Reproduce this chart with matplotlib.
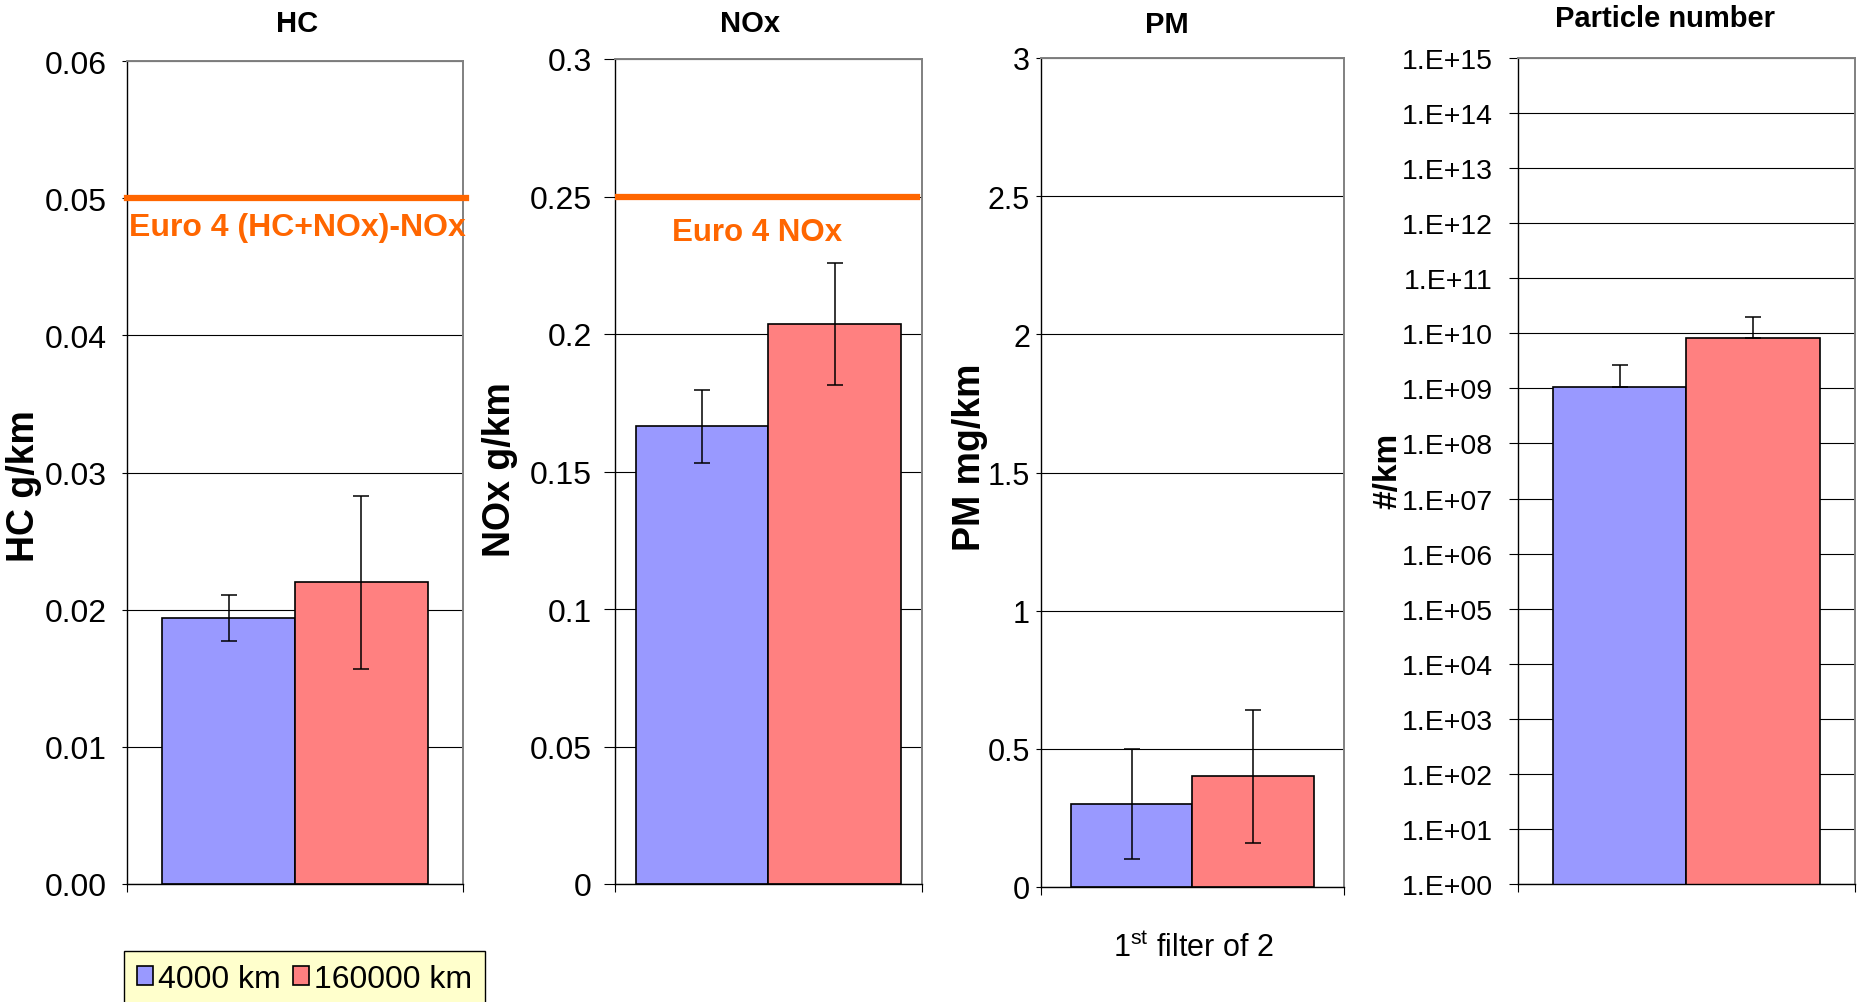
import numpy as np
import matplotlib
matplotlib.use("Agg")
import matplotlib.pyplot as plt
import matplotlib.ticker as tkr
from matplotlib.patches import Patch

plt.rcParams['font.family'] = ['Liberation Sans', 'DejaVu Sans']
plt.rcParams['mathtext.fontset'] = 'custom'
plt.rcParams['mathtext.rm'] = 'Liberation Sans'

# mileage groups and their colours
series = ["4000 km", "160000 km"]
colors = ["#9999FF", "#FF8080"]

# HC in g/km with the Euro 4 (HC+NOx)-NOx limit
hc_vals = [0.0194, 0.0220]
hc_err = [0.0017, 0.0063]
hc_limit = 0.05

# NOx in g/km with the Euro 4 NOx limit
nox_vals = [0.1664, 0.2036]
nox_err = [0.0133, 0.0223]
nox_limit = 0.25

# PM in mg/km
pm_vals = [0.30, 0.40]
pm_err = [0.20, 0.24]

# particle number per km, upper error only
pn_vals = [1.05e9, 8.2e9]
pn_err_up = [1.65e9, 1.18e10]

W, H = 1858, 1003
fig = plt.figure(figsize=(W / 100, H / 100), dpi=100)


def px_axes(l, t, r, b):
    return fig.add_axes([l / W, 1 - b / H, (r - l) / W, (b - t) / H])


def panel(box, vals, yerr, width, tick_len, tick_pad, tick_size, log=False):
    ax = px_axes(*box)
    x = np.array([-width / 2, width / 2])
    ax.bar(x, vals, width=width, color=colors, edgecolor='black',
           linewidth=1.2, zorder=2, log=log)
    ax.errorbar(x, vals, yerr=yerr, fmt='none', ecolor='black',
                elinewidth=1.1, capsize=6, capthick=1.1, zorder=3)
    ax.set_xlim(-0.5, 0.5)
    ax.set_xticks([-0.5, 0.5])
    ax.set_xticklabels([])
    ax.tick_params(axis='x', length=6, width=0.8, direction='out')
    ax.tick_params(axis='y', length=tick_len * 0.72, pad=tick_pad * 0.72,
                   labelsize=tick_size, width=0.8)
    ax.yaxis.grid(True, color='black', lw=0.8)
    ax.set_axisbelow(True)
    for s in ['left', 'bottom']:
        ax.spines[s].set_color('black')
        ax.spines[s].set_linewidth(1.0)
    for s in ['top', 'right']:
        ax.spines[s].set_color('#808080')
        ax.spines[s].set_linewidth(1.4)
    return ax


gfmt = tkr.FuncFormatter(lambda v, p: '%g' % round(v, 4))

# HC
ax1 = panel((127, 62, 463, 885), hc_vals, hc_err, 0.395, 5, 15, 23)
ax1.set_ylim(0, 0.06)
ax1.set_yticks(np.arange(0, 0.061, 0.01))
ax1.yaxis.set_major_formatter(tkr.FormatStrFormatter('%.2f'))
ax1.axhline(hc_limit, xmin=0, xmax=1.01, color='#FF6600', lw=4.5, zorder=4, clip_on=False)
ax1.text(-0.494, 0.0479, "Euro 4 (HC+NOx)-NOx", color='#FF6600', fontsize=23,
         fontweight='bold', ha='left', va='center', zorder=5)

# NOx
ax2 = panel((615, 60, 922, 885), nox_vals, nox_err, 0.43, 11, 12, 23)
ax2.set_ylim(0, 0.3)
ax2.set_yticks(np.arange(0, 0.301, 0.05))
ax2.yaxis.set_major_formatter(gfmt)
ax2.axhline(nox_limit, xmin=0, xmax=0.985, color='#FF6600', lw=4.5, zorder=4)
ax2.text(-0.0375, 0.2371, "Euro 4 NOx", color='#FF6600', fontsize=22.5,
         fontweight='bold', ha='center', va='center', zorder=5)

# PM
ax3 = panel((1041, 59, 1344, 888), pm_vals, pm_err, 0.40, 5, 6, 22)
ax3.set_ylim(0, 3)
ax3.set_yticks(np.arange(0, 3.01, 0.5))
ax3.yaxis.set_major_formatter(gfmt)

# Particle number (log scale)
pn_yerr = [[0, 0], pn_err_up]
ax4 = panel((1518, 59, 1855, 885), pn_vals, pn_yerr, 0.395, 9, 16, 20.5, log=True)
ax4.set_ylim(1, 1e15)
ax4.set_yticks([10.0 ** k for k in range(16)])
ax4.yaxis.set_minor_locator(tkr.NullLocator())
ax4.yaxis.set_major_formatter(
    tkr.FuncFormatter(lambda v, p: "1.E+%02d" % int(round(np.log10(v)))))

# titles
for txt, cx, cy in [("HC", 297, 24), ("NOx", 750, 24), ("PM", 1167, 25),
                    ("Particle number", 1665, 19)]:
    fig.text(cx / W, 1 - cy / H, txt, ha='center', va='center',
             fontsize=21, fontweight='bold')

# y axis labels
for txt, cx, cy, fs in [("HC g/km", 24, 486, 27), ("NOx g/km", 500, 470, 27),
                        ("PM mg/km", 970, 457, 27), ("#/km", 1388, 471, 24)]:
    fig.text(cx / W, 1 - cy / H, txt, ha='center', va='center', rotation=90,
             fontsize=fs, fontweight='bold')

fig.text(1193 / W, 1 - 949 / H, r"1$^{\mathrm{st}}$ filter of 2", ha='center',
         va='center', fontsize=22)

handles = [Patch(facecolor=c, edgecolor='black', linewidth=1.2) for c in colors]
leg = fig.legend(handles, series, loc='upper left',
                 bbox_to_anchor=(124 / W, 1 - 952 / H), ncol=2, frameon=True,
                 fancybox=False, facecolor='#FFFFCC', edgecolor='black',
                 framealpha=1, fontsize=23, handlelength=0.5, handleheight=0.5,
                 handletextpad=0.15, columnspacing=0.4, borderpad=0.4,
                 borderaxespad=0)
leg.get_frame().set_linewidth(1.0)

fig.savefig("out.png", dpi=100)
